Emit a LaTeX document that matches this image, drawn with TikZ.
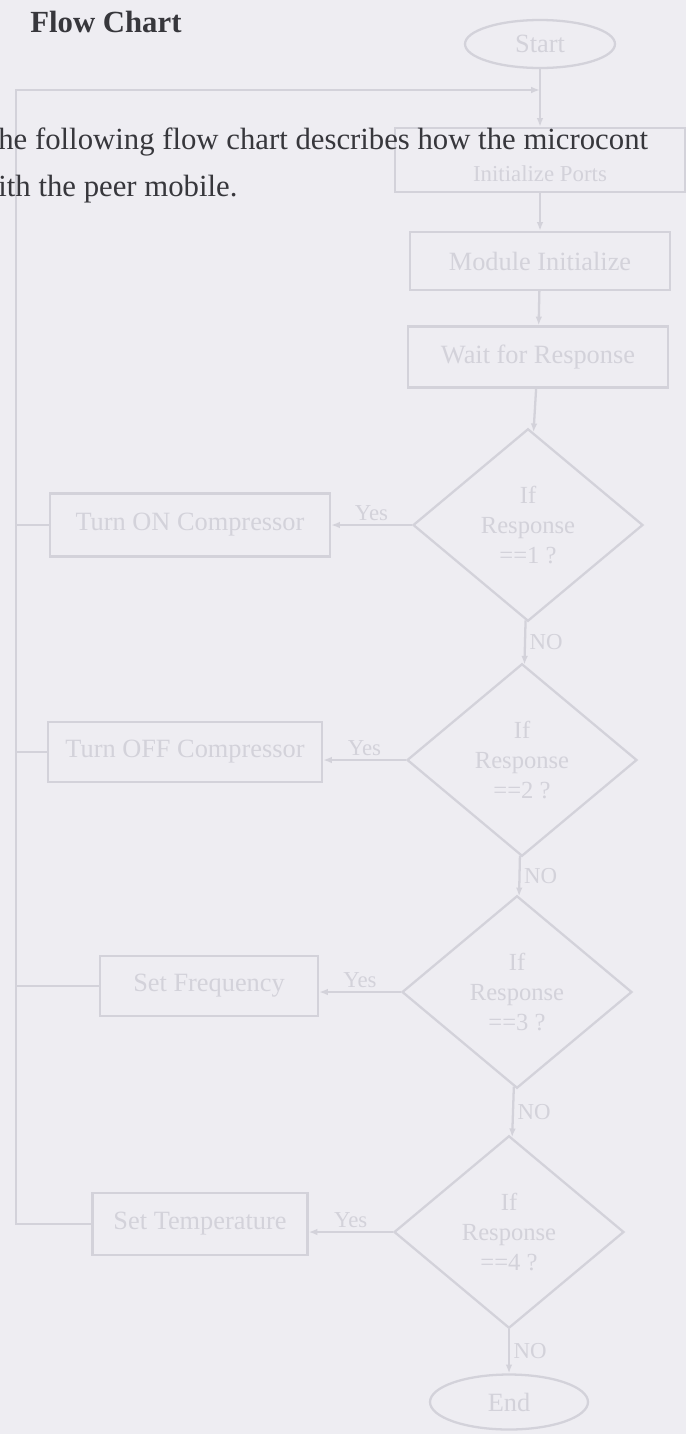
\documentclass[tikz,border=0pt]{standalone}
\usepackage{fontspec}
\setmainfont{Liberation Serif}
\usetikzlibrary{arrows.meta,shapes.geometric}
\definecolor{paper}{RGB}{238,237,242}
\definecolor{faint}{RGB}{211,210,218}
\definecolor{ink}{RGB}{55,55,60}
\tikzset{box/.style={draw=faint,line width=1.3pt,align=center,text=faint,
  font=\fontsize{15}{18}\selectfont,inner sep=2pt},
  decision/.style={diamond,draw=faint,line width=1.3pt,align=center,text=faint,
  font=\fontsize{14}{17}\selectfont,minimum width=4.6cm,minimum height=3.85cm,inner sep=0pt},
  terminal/.style={ellipse,draw=faint,line width=1.3pt,text=faint,
  font=\fontsize{15}{18}\selectfont},
  line/.style={draw=faint,line width=1.3pt},
  flow/.style={line,-{Latex[length=5pt]}},
  lab/.style={font=\fontsize{13}{15}\selectfont,text=faint,inner sep=2pt}}

\begin{document}
\begin{tikzpicture}[x=0.02cm,y=-0.02cm]
\useasboundingbox[fill=paper] (0,0) rectangle (686,1434);
\clip (0,0) rectangle (686,1434);
% flow chart
\node[terminal,minimum width=3cm,minimum height=0.96cm] (start) at (540,44) {Start};
\node[box,minimum width=5.8cm,minimum height=1.28cm] (init) at (540,160) {};
\node[lab,font=\fontsize{13}{15}\selectfont] (inittext) at (540,174) {Initialize Ports};
\node[box,minimum width=5.2cm,minimum height=1.16cm] (module) at (540,261) {Module Initialize};
\node[box,minimum width=5.2cm,minimum height=1.22cm] (wait) at (538,357) {Wait for Response};
\node[decision] (resp1) at (528,525) {If\\Response\\==1 ?};
\node[decision] (resp2) at (522,760) {If\\Response\\==2 ?};
\node[decision] (resp3) at (517,992) {If\\Response\\==3 ?};
\node[decision] (resp4) at (509,1232) {If\\Response\\==4 ?};
\node[box,minimum width=5.6cm,minimum height=1.26cm] (compon) at (190,525) {Turn ON Compressor};
\node[box,minimum width=5.48cm,minimum height=1.2cm] (compoff) at (185,752) {Turn OFF Compressor};
\node[box,minimum width=4.36cm,minimum height=1.2cm] (setfreq) at (209,986) {Set Frequency};
\node[box,minimum width=4.3cm,minimum height=1.24cm] (settemp) at (200,1224) {Set Temperature};
\node[terminal,minimum width=3.16cm,minimum height=1.1cm] (end) at (509,1402) {End};
\coordinate (bustop) at (16,90);
\coordinate (join) at (540,90);
\draw[flow] (start) -- (init);
\draw[flow] (init) -- (module);
\draw[flow] (module) -- (wait);
\draw[flow] (wait) -- (resp1);
\draw[flow] (resp1) -- node[lab,right] {NO} (resp2);
\draw[flow] (resp2) -- node[lab,right] {NO} (resp3);
\draw[flow] (resp3) -- node[lab,right] {NO} (resp4);
\draw[flow] (resp4) -- node[lab,right] {NO} (end);
\draw[flow] (resp1.west) -- node[lab,above] {Yes} (resp1.west -| compon.east);
\draw[flow] (resp2.west) -- node[lab,above] {Yes} (resp2.west -| compoff.east);
\draw[flow] (resp3.west) -- node[lab,above] {Yes} (resp3.west -| setfreq.east);
\draw[flow] (resp4.west) -- node[lab,above] {Yes} (resp4.west -| settemp.east);
\draw[line] (compon.west) -- (compon.west -| bustop);
\draw[line] (compoff.west) -- (compoff.west -| bustop);
\draw[line] (setfreq.west) -- (setfreq.west -| bustop);
\draw[flow] (settemp.west) -| (bustop) -- (join);
% page text on top
\node[anchor=base west,inner sep=0pt,text=ink,font=\fontsize{17.5}{20}\selectfont\bfseries] (title) at (30,32) {Flow Chart};
\node[anchor=base west,inner sep=0pt,text=ink,font=\fontsize{17.5}{20}\selectfont] (para1) at (-2,149) {he following flow chart describes how the microcont};
\node[anchor=base west,inner sep=0pt,text=ink,font=\fontsize{17.5}{20}\selectfont] (para2) at (-2,196) {ith the peer mobile.};
\end{tikzpicture}
\end{document}
